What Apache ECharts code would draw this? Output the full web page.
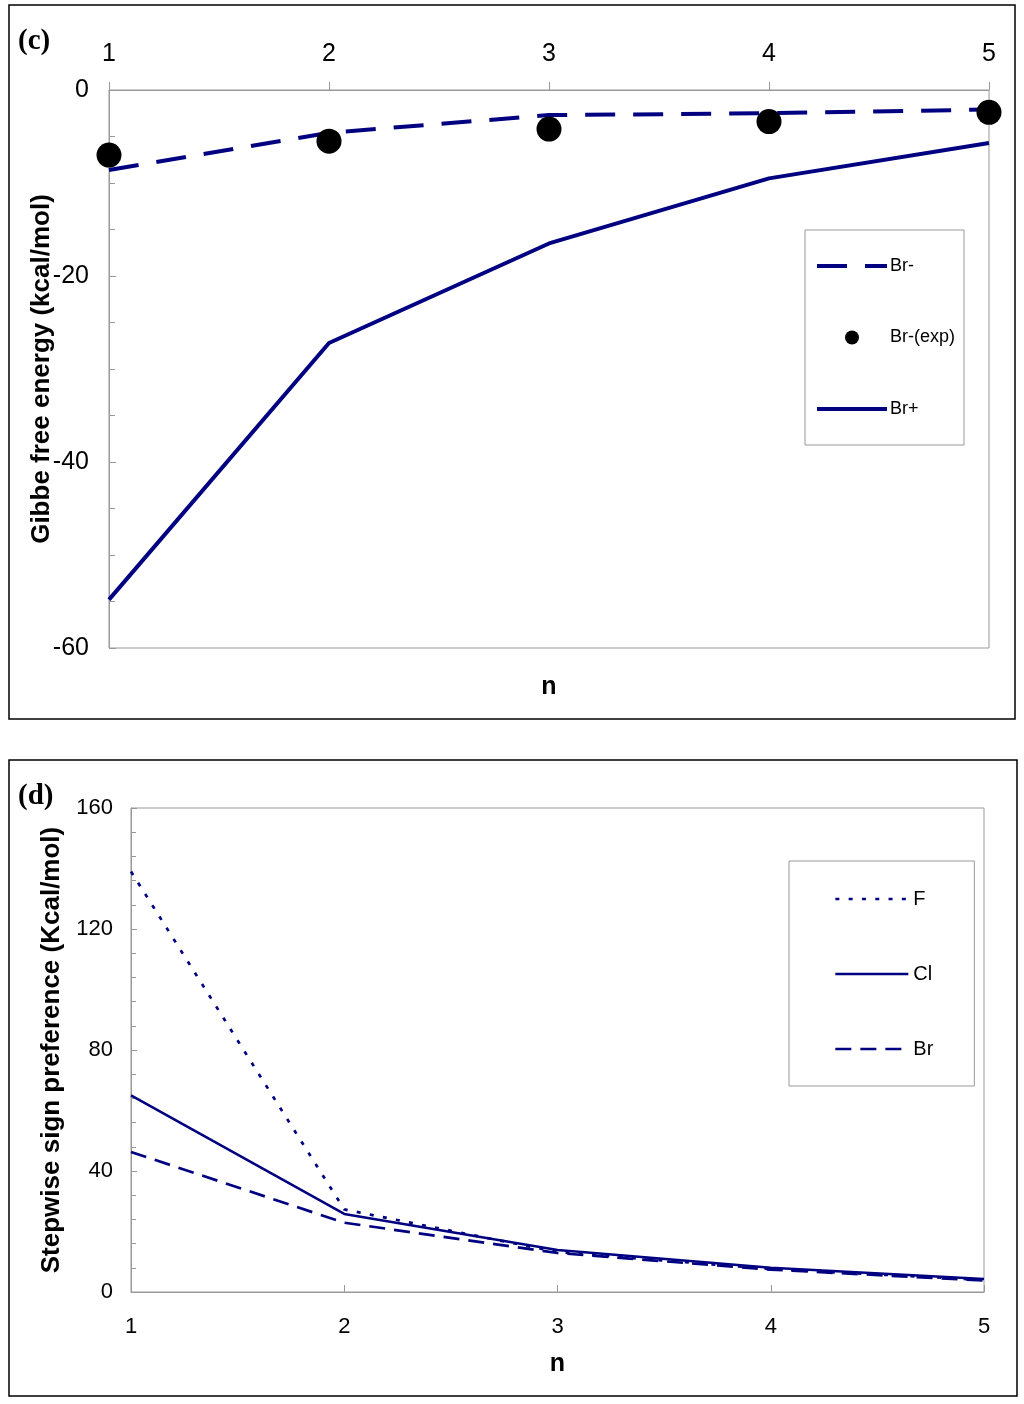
<!DOCTYPE html>
<html>
<head>
<meta charset="utf-8">
<script src="https://cdn.jsdelivr.net/npm/echarts@6/dist/echarts.min.js"></script>
<style>
html,body{margin:0;padding:0;background:#fff;}
#chart{width:1024px;height:1404px;}
</style>
</head>
<body>
<div id="chart"></div>
<script>
// ---- data ----
const nValues = [1, 2, 3, 4, 5];
// panel (c): Gibbs free energy (kcal/mol)
const brMinus    = [-8.6, -4.6, -2.7, -2.5, -2.1];
const brMinusExp = [-7.0, -5.5, -4.2, -3.4, -2.4];
const brPlus     = [-54.8, -27.2, -16.5, -9.5, -5.7];
// panel (d): stepwise sign preference (Kcal/mol)
const fPref  = [139.0, 27.3, 13.2, 7.6, 4.0];
const clPref = [65.0, 25.8, 13.9, 8.0, 4.3];
const brPref = [46.3, 22.9, 12.9, 7.4, 3.8];

const pairs = arr => nValues.map((n, i) => [n, arr[i]]);

const NAVY = '#000080';
const AXIS = '#999999';
const FONT = '"Liberation Sans", Arial, sans-serif';
const HIDE_SYMBOL = {opacity: 0};

const STYLE_BRM = {color: NAVY, width: 4, type: [30, 18]};
const STYLE_BRP = {color: NAVY, width: 4, type: 'solid'};
const STYLE_F   = {color: NAVY, width: 2.7, type: [4, 9.3]};
const STYLE_CL  = {color: NAVY, width: 2.5, type: 'solid'};
const STYLE_BR  = {color: NAVY, width: 2.7, type: [16, 9]};

const chart = echarts.init(document.getElementById('chart'), null, {renderer: 'canvas'});

const option = {
  animation: false,
  backgroundColor: '#ffffff',
  textStyle: {fontFamily: FONT, color: '#000'},
  grid: [
    {left: 109, top: 90, width: 880, height: 558, show: true, borderColor: AXIS, borderWidth: 1, backgroundColor: 'transparent'},
    {left: 131, top: 808, width: 853, height: 484, show: true, borderColor: AXIS, borderWidth: 1, backgroundColor: 'transparent'}
  ],
  xAxis: [
    {
      gridIndex: 0, type: 'value', position: 'top', min: 1, max: 5, interval: 1,
      axisLine: {show: true, lineStyle: {color: AXIS, width: 1}},
      axisTick: {show: true, inside: false, length: 8, lineStyle: {color: AXIS}},
      axisLabel: {fontSize: 25, color: '#000', margin: 23, fontFamily: FONT},
      splitLine: {show: false}
    },
    {
      gridIndex: 1, type: 'value', position: 'bottom', min: 1, max: 5, interval: 1,
      name: 'n', nameLocation: 'middle', nameGap: 60,
      nameTextStyle: {fontSize: 25, fontWeight: 'bold', color: '#000', fontFamily: FONT},
      axisLine: {show: true, lineStyle: {color: AXIS, width: 1}},
      axisTick: {show: true, inside: true, length: 7, lineStyle: {color: AXIS}},
      axisLabel: {fontSize: 22, color: '#000', margin: 24, fontFamily: FONT},
      splitLine: {show: false}
    }
  ],
  yAxis: [
    {
      gridIndex: 0, type: 'value', min: -60, max: 0, interval: 20,
      name: 'Gibbe free energy (kcal/mol)', nameLocation: 'middle', nameGap: 54, nameMoveOverlap: false,
      nameTextStyle: {fontSize: 26, fontWeight: 'bold', color: '#000', fontFamily: FONT},
      axisLine: {show: true, lineStyle: {color: AXIS, width: 1}},
      axisTick: {show: true, inside: true, length: 7, lineStyle: {color: AXIS}},
      minorTick: {show: true, splitNumber: 4, length: 6, lineStyle: {color: AXIS}},
      axisLabel: {fontSize: 25, color: '#000', margin: 20, fontFamily: FONT},
      splitLine: {show: false}
    },
    {
      gridIndex: 1, type: 'value', min: 0, max: 160, interval: 40,
      name: 'Stepwise sign preference (Kcal/mol)', nameLocation: 'middle', nameGap: 66,
      nameTextStyle: {fontSize: 26, fontWeight: 'bold', color: '#000', fontFamily: FONT},
      axisLine: {show: true, lineStyle: {color: AXIS, width: 1}},
      axisTick: {show: true, inside: true, length: 6, lineStyle: {color: AXIS}},
      minorTick: {show: true, splitNumber: 5, length: 5, lineStyle: {color: AXIS}},
      axisLabel: {fontSize: 22, color: '#000', margin: 18, fontFamily: FONT},
      splitLine: {show: false}
    }
  ],
  legend: [
    {
      data: [
        {name: 'Br-', itemStyle: HIDE_SYMBOL, lineStyle: STYLE_BRM},
        {name: 'Br-(exp)'},
        {name: 'Br+', itemStyle: HIDE_SYMBOL, lineStyle: STYLE_BRP}
      ],
      orient: 'vertical', left: 805, top: 230,
      padding: [27, 9, 27, 10],
      itemWidth: 70, itemHeight: 14, itemGap: 53.5,
      borderColor: AXIS, borderWidth: 1, backgroundColor: '#fff',
      textStyle: {fontSize: 18, color: '#000', fontFamily: FONT, padding: [0, 0, 0, -2]}
    },
    {
      data: [
        {name: 'F', itemStyle: HIDE_SYMBOL, lineStyle: STYLE_F},
        {name: 'Cl', itemStyle: HIDE_SYMBOL, lineStyle: STYLE_CL},
        {name: 'Br', itemStyle: HIDE_SYMBOL, lineStyle: STYLE_BR}
      ],
      orient: 'vertical', left: 789, top: 861,
      padding: [28, 41, 27, 45],
      itemWidth: 73, itemHeight: 14, itemGap: 55,
      borderColor: AXIS, borderWidth: 1, backgroundColor: '#fff',
      textStyle: {fontSize: 20, color: '#000', fontFamily: FONT}
    }
  ],
  series: [
    {
      name: 'Br-', type: 'line', xAxisIndex: 0, yAxisIndex: 0,
      data: pairs(brMinus), symbol: 'none', showSymbol: false,
      lineStyle: STYLE_BRM, itemStyle: {color: NAVY}, z: 3
    },
    {
      name: 'Br-(exp)', type: 'scatter', xAxisIndex: 0, yAxisIndex: 0,
      data: pairs(brMinusExp), symbol: 'circle', symbolSize: 25,
      itemStyle: {color: '#000', opacity: 1}, z: 4
    },
    {
      name: 'Br+', type: 'line', xAxisIndex: 0, yAxisIndex: 0,
      data: pairs(brPlus), symbol: 'none', showSymbol: false,
      lineStyle: STYLE_BRP, itemStyle: {color: NAVY}, z: 3
    },
    {
      name: 'F', type: 'line', xAxisIndex: 1, yAxisIndex: 1,
      data: pairs(fPref), symbol: 'none', showSymbol: false,
      lineStyle: STYLE_F, itemStyle: {color: NAVY}, z: 3
    },
    {
      name: 'Cl', type: 'line', xAxisIndex: 1, yAxisIndex: 1,
      data: pairs(clPref), symbol: 'none', showSymbol: false,
      lineStyle: STYLE_CL, itemStyle: {color: NAVY}, z: 3
    },
    {
      name: 'Br', type: 'line', xAxisIndex: 1, yAxisIndex: 1,
      data: pairs(brPref), symbol: 'none', showSymbol: false,
      lineStyle: STYLE_BR, itemStyle: {color: NAVY}, z: 3
    }
  ],
  graphic: [
    {type: 'rect', shape: {x: 9, y: 5, width: 1006, height: 714}, style: {fill: 'none', stroke: '#000', lineWidth: 1.5}, silent: true},
    {type: 'rect', shape: {x: 9, y: 760, width: 1008, height: 636}, style: {fill: 'none', stroke: '#000', lineWidth: 1.5}, silent: true},
    {type: 'text', left: 18, top: 27, style: {text: '(c)', font: 'bold 29px "Liberation Serif", "Times New Roman", serif', fill: '#000'}},
    {type: 'text', left: 18, top: 782, style: {text: '(d)', font: 'bold 29px "Liberation Serif", "Times New Roman", serif', fill: '#000'}},
    {type: 'text', x: 549, y: 687, style: {text: 'n', font: 'bold 25px "Liberation Sans", Arial, sans-serif', fill: '#000', textAlign: 'center', textVerticalAlign: 'middle'}}
  ]
};

chart.setOption(option);
</script>
</body>
</html>
